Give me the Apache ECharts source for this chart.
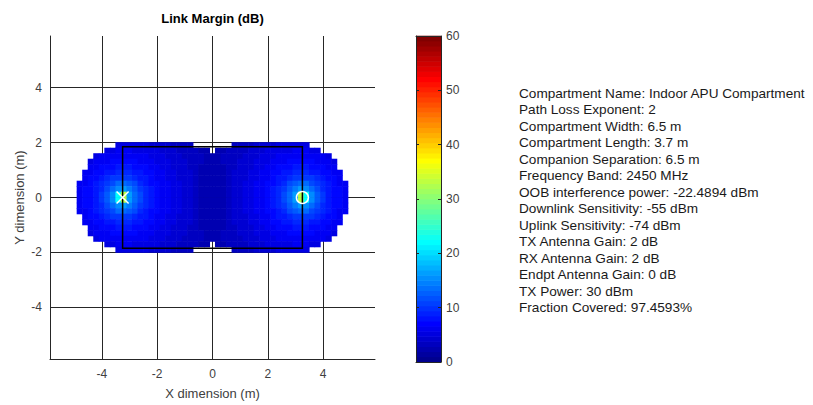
<!DOCTYPE html>
<html><head><meta charset="utf-8">
<script src="https://cdn.jsdelivr.net/npm/echarts@6/dist/echarts.min.js"></script>
<style>html,body{margin:0;padding:0;background:#fff}#c{width:813px;height:405px}</style>
</head><body><div id="c"></div>
<script>
const _ = null;
// cell centres (m)
const xCenters = [-4.8,-4.6,-4.4,-4.2,-4.0,-3.8,-3.6,-3.4,-3.2,-3.0,-2.8,-2.6,-2.4,-2.2,-2.0,-1.8,-1.6,-1.4,-1.2,-1.0,-0.8,-0.6,-0.4,-0.2,0,0.2,0.4,0.6,0.8,1.0,1.2,1.4,1.6,1.8,2.0,2.2,2.4,2.6,2.8,3.0,3.2,3.4,3.6,3.8,4.0,4.2,4.4,4.6,4.8];
const yCenters = [1.9,1.7,1.5,1.3,1.1,0.9,0.7,0.5,0.3,0.1,-0.1,-0.3,-0.5,-0.7,-0.9,-1.1,-1.3,-1.5,-1.7,-1.9];
// link margin (dB), rows top -> bottom, null = not covered
const linkMargin = [
 [_,_,_,_,_,_,_,5,5,5,5,5,5,4,4,4,4,3,3,3,3,_,_,_,_,_,_,_,3,3,3,3,4,4,4,4,5,5,5,5,5,5,_,_,_,_,_,_,_],
 [_,_,_,_,_,5,5,6,6,6,5,5,5,5,5,4,4,4,3,3,3,3,2,2,_,2,2,3,3,3,3,4,4,4,5,5,5,5,5,6,6,6,5,5,_,_,_,_,_],
 [_,_,_,5,6,6,6,6,6,6,6,6,6,5,5,5,4,4,4,3,3,3,3,2,2,2,3,3,3,3,4,4,4,5,5,5,6,6,6,6,6,6,6,6,6,5,_,_,_],
 [_,_,5,6,6,6,7,7,7,7,7,6,6,6,5,5,5,4,4,4,3,3,3,2,2,2,3,3,3,4,4,4,5,5,5,6,6,6,7,7,7,7,7,6,6,6,5,_,_],
 [_,_,6,6,7,7,7,8,8,8,7,7,7,6,6,5,5,4,4,4,3,3,2,2,2,2,2,3,3,4,4,4,5,5,6,6,7,7,7,8,8,8,7,7,7,6,6,_,_],
 [_,6,6,7,7,8,8,9,9,9,8,8,7,7,6,6,5,5,4,4,4,3,2,2,2,2,2,3,4,4,4,5,5,6,6,7,7,8,8,9,9,9,8,8,7,7,6,6,_],
 [_,6,7,7,8,9,10,10,10,10,9,8,8,7,6,6,5,5,4,4,4,3,2,2,2,2,2,3,4,4,4,5,5,6,6,7,8,8,9,10,10,10,10,9,8,7,7,6,_],
 [6,6,7,8,9,10,11,13,13,12,11,9,8,7,7,6,6,5,5,4,4,3,2,2,2,2,2,3,4,4,5,5,6,6,7,7,8,9,11,12,13,13,11,10,9,8,7,6,6],
 [6,7,7,8,9,11,13,15,16,14,12,10,9,8,7,6,6,5,5,4,4,3,2,2,2,2,2,3,4,4,5,5,6,6,7,8,9,10,12,14,16,15,13,11,9,8,7,7,6],
 [6,7,7,8,10,12,15,22,33,16,13,11,9,8,7,6,6,5,5,4,4,3,2,2,2,2,2,3,4,4,5,5,6,6,7,8,9,11,13,16,33,22,15,12,10,8,7,7,6],
 [6,7,7,8,10,12,15,22,33,16,13,11,9,8,7,6,6,5,5,4,4,3,2,2,2,2,2,3,4,4,5,5,6,6,7,8,9,11,13,16,33,22,15,12,10,8,7,7,6],
 [6,7,7,8,9,11,13,15,16,14,12,10,9,8,7,6,6,5,5,4,4,3,2,2,2,2,2,3,4,4,5,5,6,6,7,8,9,10,12,14,16,15,13,11,9,8,7,7,6],
 [6,6,7,8,9,10,11,13,13,12,11,9,8,7,7,6,6,5,5,4,4,3,2,2,2,2,2,3,4,4,5,5,6,6,7,7,8,9,11,12,13,13,11,10,9,8,7,6,6],
 [_,6,7,7,8,9,10,10,10,10,9,8,8,7,6,6,5,5,4,4,4,3,2,2,2,2,2,3,4,4,4,5,5,6,6,7,8,8,9,10,10,10,10,9,8,7,7,6,_],
 [_,6,6,7,7,8,8,9,9,9,8,8,7,7,6,6,5,5,4,4,4,3,2,2,2,2,2,3,4,4,4,5,5,6,6,7,7,8,8,9,9,9,8,8,7,7,6,6,_],
 [_,_,6,6,7,7,7,8,8,8,7,7,7,6,6,5,5,4,4,4,3,3,2,2,2,2,2,3,3,4,4,4,5,5,6,6,7,7,7,8,8,8,7,7,7,6,6,_,_],
 [_,_,5,6,6,6,7,7,7,7,7,6,6,6,5,5,5,4,4,4,3,3,3,2,2,2,3,3,3,4,4,4,5,5,5,6,6,6,7,7,7,7,7,6,6,6,5,_,_],
 [_,_,_,5,6,6,6,6,6,6,6,6,6,5,5,5,4,4,4,3,3,3,3,2,2,2,3,3,3,3,4,4,4,5,5,5,6,6,6,6,6,6,6,6,6,5,_,_,_],
 [_,_,_,_,_,5,5,6,6,6,5,5,5,5,5,4,4,4,3,3,3,3,2,2,_,2,2,3,3,3,3,4,4,4,5,5,5,5,5,6,6,6,5,5,_,_,_,_,_],
 [_,_,_,_,_,_,_,5,5,5,5,5,5,4,4,4,4,3,3,3,3,_,_,_,_,_,_,_,3,3,3,3,4,4,4,4,5,5,5,5,5,5,_,_,_,_,_,_,_]
];
const compartmentX = [-3.25, 3.25];
const compartmentY = [-1.85, 1.85];
const companionPos = [-3.25, 0];
const endpointPos = [3.25, 0];
const axisTickValues = [-4, -2, 0, 2, 4];
const colorbarRange = [0, 60];
const infoLines = [
 'Compartment Name: Indoor APU Compartment',
 'Path Loss Exponent: 2',
 'Compartment Width: 6.5 m',
 'Compartment Length: 3.7 m',
 'Companion Separation: 6.5 m',
 'Frequency Band: 2450 MHz',
 'OOB interference power: -22.4894 dBm',
 'Downlink Sensitivity: -55 dBm',
 'Uplink Sensitivity: -74 dBm',
 'TX Antenna Gain: 2 dB',
 'RX Antenna Gain: 2 dB',
 'Endpt Antenna Gain: 0 dB',
 'TX Power: 30 dBm',
 'Fraction Covered: 97.4593%'
];

// jet colormap (64 levels), style only
function jet(n){
  const out=[];
  const c=v=>Math.max(0,Math.min(1,v));
  for(let i=0;i<n;i++){
    const t=(i+1)/n;
    const r=c(1.5-Math.abs(4*t-3)), g=c(1.5-Math.abs(4*t-2)), b=c(1.5-Math.abs(4*t-1));
    out.push('rgb('+Math.round(r*255)+','+Math.round(g*255)+','+Math.round(b*255)+')');
  }
  return out;
}
const JET = jet(64);
const FONT = '"Liberation Sans", Arial, Helvetica, sans-serif';

const cellData = [];
linkMargin.forEach((row, j) => row.forEach((v, i) => {
  if (v !== null) cellData.push([xCenters[i], yCenters[j], v]);
}));
const cellW = Math.abs(xCenters[1] - xCenters[0]);
const cellH = Math.abs(yCenters[0] - yCenters[1]);

const bandData = JET.map((col, i) => [i]);

const chart = echarts.init(document.getElementById('c'), null, {renderer: 'svg'});
const axisCol = '#262626';
chart.setOption({
  animation: false,
  backgroundColor: '#fff',
  textStyle: {fontFamily: FONT},
  grid: [
    {left: 50, top: 36, width: 325, height: 326},
    {left: 416, top: 36, width: 25, height: 326}
  ],
  xAxis: [
    {gridIndex: 0, type: 'value', min: -5.875, max: 5.875,
     axisLine: {show: true, onZero: false, lineStyle: {color: axisCol, width: 1}},
     axisTick: {show: true, inside: true, length: 4, customValues: axisTickValues, lineStyle: {color: axisCol}},
     axisLabel: {customValues: axisTickValues, color: '#404040', fontSize: 12, margin: 9, fontFamily: FONT},
     splitLine: {show: true, lineStyle: {color: axisCol, width: 1}},
     name: 'X dimension (m)', nameLocation: 'middle', nameGap: 28,
     nameTextStyle: {color: '#404040', fontSize: 13, fontFamily: FONT}},
    {gridIndex: 1, type: 'value', min: 0, max: 1, position: 'bottom', z: 10,
     axisLine: {show: true, onZero: false, lineStyle: {color: axisCol}}, axisTick: {show: false},
     axisLabel: {show: false}, splitLine: {show: false}},
    {gridIndex: 1, type: 'value', min: 0, max: 1, position: 'top', z: 10,
     axisLine: {show: true, onZero: false, lineStyle: {color: axisCol}}, axisTick: {show: false},
     axisLabel: {show: false}, splitLine: {show: false}}
  ],
  yAxis: [
    {gridIndex: 0, type: 'value', min: -5.875, max: 5.875,
     axisLine: {show: true, onZero: false, lineStyle: {color: axisCol, width: 1}},
     axisTick: {show: true, inside: true, length: 4, customValues: axisTickValues, lineStyle: {color: axisCol}},
     axisLabel: {customValues: axisTickValues, color: '#404040', fontSize: 12, margin: 8, fontFamily: FONT},
     splitLine: {show: true, lineStyle: {color: axisCol, width: 1}},
     name: 'Y dimension (m)', nameLocation: 'middle', nameGap: 24,
     nameTextStyle: {color: '#404040', fontSize: 13, fontFamily: FONT}},
    {gridIndex: 1, type: 'value', min: colorbarRange[0], max: colorbarRange[1], interval: 10, position: 'left', z: 10,
     axisLine: {show: true, onZero: false, lineStyle: {color: axisCol}},
     axisTick: {show: true, inside: true, length: 3, lineStyle: {color: axisCol}},
     axisLabel: {show: false}, splitLine: {show: false}},
    {gridIndex: 1, type: 'value', min: colorbarRange[0], max: colorbarRange[1], interval: 10, position: 'right', z: 10,
     axisLine: {show: true, onZero: false, lineStyle: {color: axisCol}},
     axisTick: {show: true, inside: true, length: 3, lineStyle: {color: axisCol}},
     axisLabel: {show: true, color: '#404040', fontSize: 12, margin: 5, fontFamily: FONT}, splitLine: {show: false}}
  ],
  visualMap: {show: false, type: 'continuous', min: colorbarRange[0], max: colorbarRange[1], dimension: 2, seriesIndex: 0,
    inRange: {color: JET}},
  series: [
    {type: 'custom', xAxisIndex: 0, yAxisIndex: 0, z: 2, data: cellData,
     renderItem: function(params, api){
       const x = api.value(0), y = api.value(1);
       const p1 = api.coord([x - cellW/2, y + cellH/2]);
       const p2 = api.coord([x + cellW/2, y - cellH/2]);
       return {type: 'rect', shape: {x: p1[0]-0.3, y: p1[1]-0.3, width: p2[0]-p1[0]+0.6, height: p2[1]-p1[1]+0.6},
         style: {fill: api.visual('color')}};
     }},
    {type: 'custom', xAxisIndex: 0, yAxisIndex: 0, z: 3,
     data: [[compartmentX[0], compartmentY[0], compartmentX[1], compartmentY[1]]],
     renderItem: function(params, api){
       const a = api.coord([api.value(0), api.value(3)]);
       const b = api.coord([api.value(2), api.value(1)]);
       return {type: 'rect', shape: {x: a[0], y: a[1], width: b[0]-a[0], height: b[1]-a[1]},
         style: {fill: 'none', stroke: '#000', lineWidth: 1.5}};
     }},
    {type: 'custom', xAxisIndex: 0, yAxisIndex: 0, z: 4, data: [companionPos],
     renderItem: function(params, api){
       const p = api.coord([api.value(0), api.value(1)]);
       const s = 6;
       return {type: 'group', children: [
         {type: 'line', shape: {x1: p[0]-s, y1: p[1]-s, x2: p[0]+s, y2: p[1]+s}, style: {stroke: '#fff', lineWidth: 1.5}},
         {type: 'line', shape: {x1: p[0]-s, y1: p[1]+s, x2: p[0]+s, y2: p[1]-s}, style: {stroke: '#fff', lineWidth: 1.5}}
       ]};
     }},
    {type: 'custom', xAxisIndex: 0, yAxisIndex: 0, z: 4, data: [endpointPos],
     renderItem: function(params, api){
       const p = api.coord([api.value(0), api.value(1)]);
       return {type: 'circle', shape: {cx: p[0], cy: p[1], r: 6}, style: {fill: 'none', stroke: '#fff', lineWidth: 1.5}};
     }},
    {type: 'custom', xAxisIndex: 1, yAxisIndex: 1, z: 2, data: bandData,
     renderItem: function(params, api){
       const i = api.value(0);
       const span = colorbarRange[1] - colorbarRange[0];
       const lo = colorbarRange[0] + i*span/JET.length, hi = colorbarRange[0] + (i+1)*span/JET.length;
       const a = api.coord([0, hi]);
       const b = api.coord([1, lo]);
       return {type: 'rect', shape: {x: a[0], y: a[1]-0.3, width: b[0]-a[0], height: b[1]-a[1]+0.6},
         style: {fill: JET[i]}};
     }}
  ],
  graphic: [
    {type: 'text', x: 212.5, y: 18, style: {text: 'Link Margin (dB)', font: 'bold 13px ' + FONT, fill: '#000',
      align: 'center', verticalAlign: 'middle', textAlign: 'center', textVerticalAlign: 'middle'}},
    {type: 'text', x: 519, y: 85, style: {text: infoLines.join('\n'), font: '13.6px ' + FONT, fill: '#1a1a1a',
      lineHeight: 16.5, align: 'left', verticalAlign: 'top', textAlign: 'left', textVerticalAlign: 'top'}}
  ]
});
</script></body></html>
